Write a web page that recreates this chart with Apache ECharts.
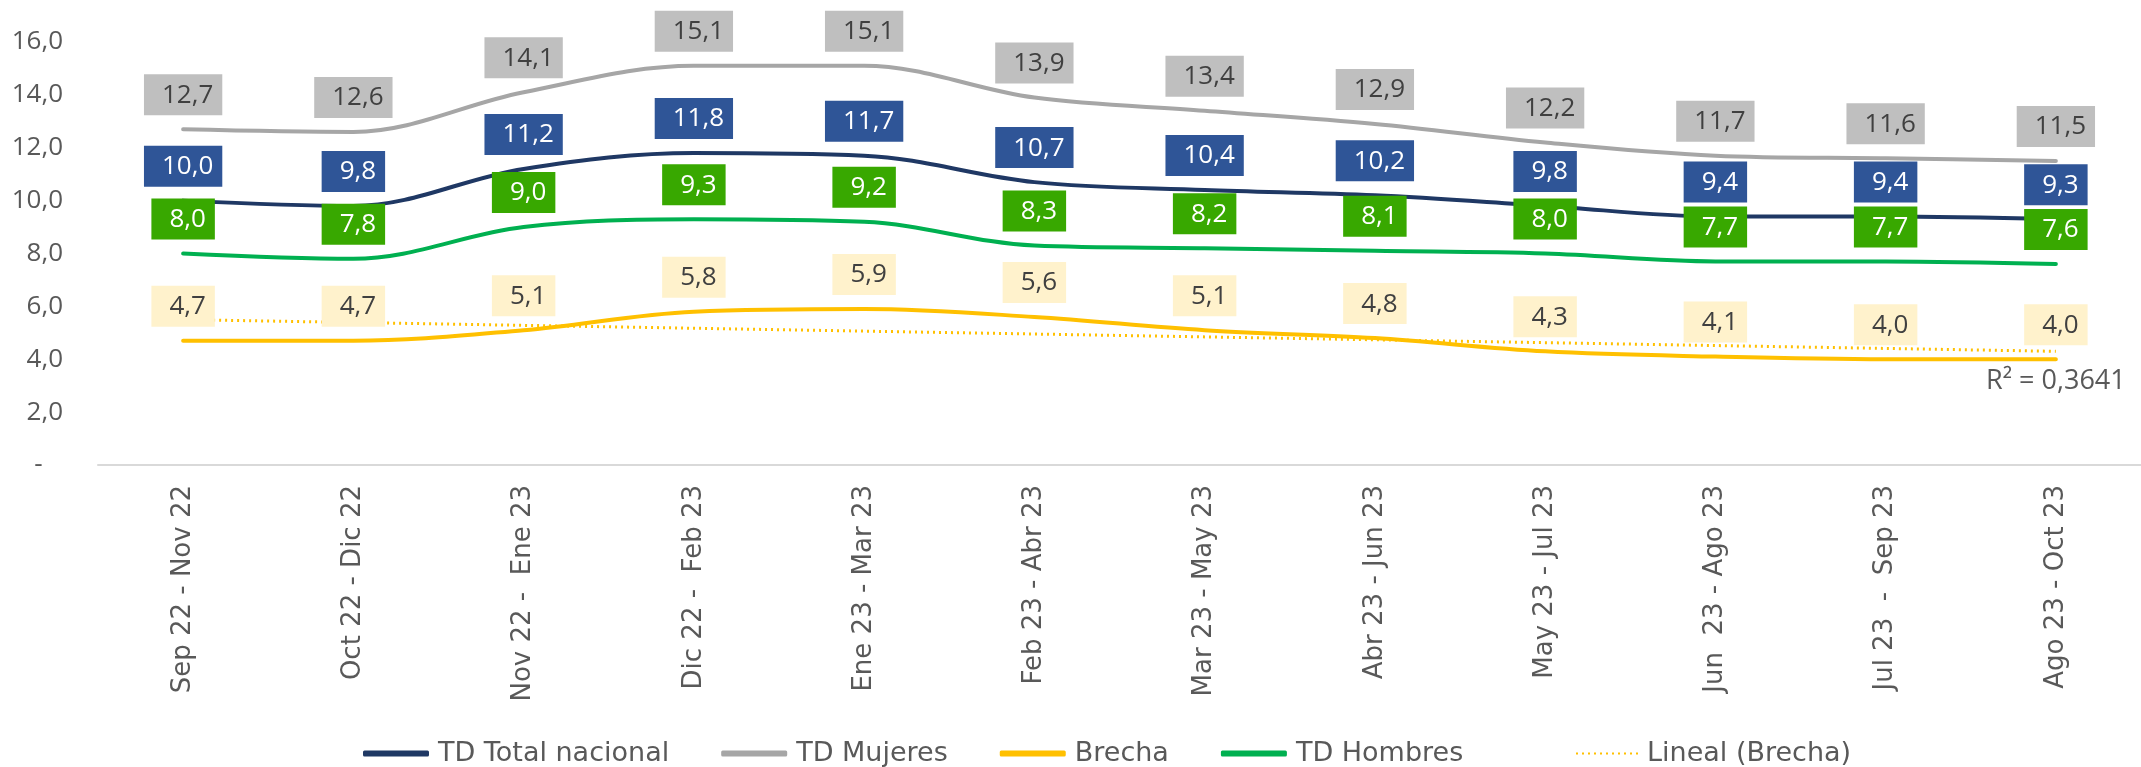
<!DOCTYPE html>
<html>
<head>
<meta charset="utf-8">
<script src="https://cdn.jsdelivr.net/npm/echarts@6/dist/echarts.min.js"></script>
<style>
html,body{margin:0;padding:0;background:#fff;}
#c{width:2141px;height:767px;}
</style>
</head>
<body>
<div id="c"></div>
<script>
const categories = ['Sep 22 - Nov 22','Oct 22 - Dic 22','Nov 22 -  Ene 23','Dic 22 -  Feb 23','Ene 23 - Mar 23','Feb 23 - Abr 23','Mar 23 - May 23','Abr 23 - Jun 23','May 23 - Jul 23','Jun  23 - Ago 23','Jul 23  -  Sep 23','Ago 23 - Oct 23'];
const tdTotal   = [10.0, 9.8, 11.2, 11.8, 11.7, 10.7, 10.4, 10.2, 9.8, 9.4, 9.4, 9.3];
const tdMujeres = [12.7, 12.6, 14.1, 15.1, 15.1, 13.9, 13.4, 12.9, 12.2, 11.7, 11.6, 11.5];
const brecha    = [4.7, 4.7, 5.1, 5.8, 5.9, 5.6, 5.1, 4.8, 4.3, 4.1, 4.0, 4.0];
const tdHombres = [8.0, 7.8, 9.0, 9.3, 9.2, 8.3, 8.2, 8.1, 8.0, 7.7, 7.7, 7.6];
// trend line endpoints
const linealBrecha = [5.5, null, null, null, null, null, null, null, null, null, null, 4.3];
const r2Text = 'R² = 0,3641';
const yTicks = {min: 0, max: 16, interval: 2};

const numFont = 'Open Sans';
const txtFont = 'DejaVu Sans';
const fmt = v => v.toFixed(1).replace('.', ',');

function boxLabel(bg, color) {
  return {
    show: true,
    position: 'top',
    distance: 14,
    formatter: p => fmt(p.value),
    fontFamily: numFont,
    fontSize: 26,
    lineHeight: 28,
    color: color,
    backgroundColor: bg,
    padding: [7, 9, 6, 18]
  };
}

function lineSeries(name, data, color, labelBg, labelColor) {
  return {
    name: name,
    type: 'line',
    data: data,
    smooth: 0.35,
    symbol: 'circle',
    symbolSize: 0,
    showSymbol: true,
    lineStyle: {color: color, width: 4, cap: 'round'},
    itemStyle: {color: color},
    label: boxLabel(labelBg, labelColor),
    emphasis: {disabled: true}
  };
}

const chart = echarts.init(document.getElementById('c'));
chart.setOption({
  animation: false,
  backgroundColor: '#ffffff',
  grid: {left: 98, right: -6, top: 42, bottom: 302, containLabel: false},
  legend: [{
    left: 358, top: 735,
    itemWidth: 66, itemHeight: 6, itemGap: 52,
    icon: 'roundRect',
    textStyle: {fontFamily: txtFont, fontSize: 27, color: '#595959', padding: [0, 0, 0, 4]},
    data: ['TD Total nacional', 'TD Mujeres', 'Brecha', 'TD Hombres']
  }, {
    left: 1570, top: 735,
    itemWidth: 62, itemHeight: 6,
    itemStyle: {opacity: 0},
    textStyle: {fontFamily: txtFont, fontSize: 27, color: '#595959', padding: [0, 0, 0, 4]},
    data: ['Lineal (Brecha)']
  }],
  xAxis: {
    type: 'category',
    data: categories,
    boundaryGap: true,
    axisLine: {show: true, lineStyle: {color: '#d9d9d9', width: 2}},
    axisTick: {show: false},
    axisLabel: {
      rotate: 90, margin: 20, interval: 0,
      fontFamily: txtFont, fontSize: 26, color: '#595959'
    }
  },
  yAxis: {
    type: 'value',
    min: yTicks.min, max: yTicks.max, interval: yTicks.interval,
    axisLine: {show: false},
    axisTick: {show: false},
    splitLine: {show: false},
    axisLabel: {
      margin: 35,
      fontFamily: numFont, fontSize: 26, color: '#595959',
      formatter: v => v === 0 ? '-   ' : fmt(v)
    }
  },
  series: [
    lineSeries('TD Total nacional', tdTotal, '#1f3864', '#2f5597', '#ffffff'),
    lineSeries('TD Mujeres', tdMujeres, '#a6a6a6', '#bfbfbf', '#404040'),
    lineSeries('Brecha', brecha, '#ffc000', '#fff2cc', '#404040'),
    lineSeries('TD Hombres', tdHombres, '#00b050', '#38a800', '#ffffff'),
    {
      name: 'Lineal (Brecha)',
      type: 'line',
      z: 3,
      data: linealBrecha,
      connectNulls: true,
      symbol: 'none',
      lineStyle: {color: '#ffc000', width: 3, type: [2, 4]},
      itemStyle: {color: '#ffc000'},
      emphasis: {disabled: true},
      markPoint: {
        symbol: 'circle',
        symbolSize: 0,
        silent: true,
        data: [{
          coord: [categories[11], linealBrecha[11]],
          label: {
            show: true, position: 'bottom', distance: 16,
            formatter: r2Text, fontFamily: numFont, fontSize: 27, color: '#595959'
          }
        }]
      }
    }
  ]
});
</script>
</body>
</html>
